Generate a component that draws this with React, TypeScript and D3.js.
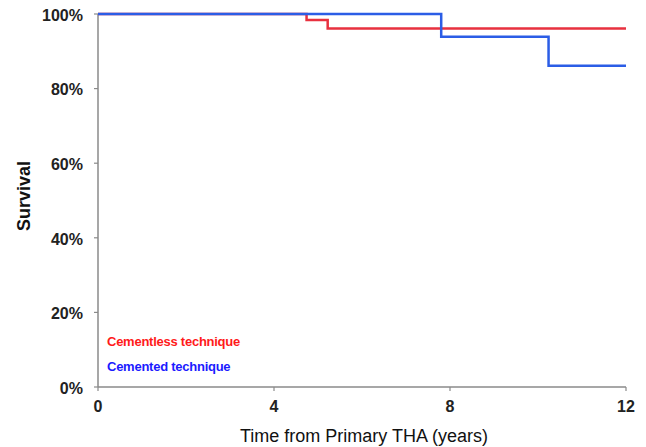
import React from "react";
import * as d3 from "d3";

const cementlessTimes = [0, 4.74, 5.22, 12];
const cementlessSurvival = [100, 98.4, 96.1, 96.1];
const cementedTimes = [0, 7.8, 10.24, 12];
const cementedSurvival = [100, 93.9, 86.1, 86.1];
const yTicks = [0, 20, 40, 60, 80, 100];
const xTicks = [0, 4, 8, 12];
const legendLabels = ["Cementless technique", "Cemented technique"];
const colors = ["#e8313f", "#2b5de6"];

export default function App() {
  const W = 646, H = 447;
  const x = d3.scaleLinear().domain([0, 12]).range([98, 626]);
  const y = d3.scaleLinear().domain([0, 100]).range([387, 14]);
  const line = d3
    .line<[number, number]>()
    .x((d) => x(d[0]))
    .y((d) => y(d[1]))
    .curve(d3.curveStepAfter);
  const series = [
    cementlessTimes.map((t, i) => [t, cementlessSurvival[i]] as [number, number]),
    cementedTimes.map((t, i) => [t, cementedSurvival[i]] as [number, number]),
  ];
  const axisColor = "#8a8a8a";
  const font = "Liberation Sans, Arial, sans-serif";
  return (
    <svg width={W} height={H} style={{ position: "absolute", left: 0, top: 0, background: "#fff" }}>
      <line x1={x(0)} x2={x(0)} y1={y(0)} y2={y(100)} stroke={axisColor} strokeWidth={1.5} />
      <line x1={x(0)} x2={x(12)} y1={y(0)} y2={y(0)} stroke={axisColor} strokeWidth={1.5} />
      {yTicks.map((t) => (
        <g key={"y" + t}>
          <line x1={x(0) - 4} x2={x(0)} y1={y(t)} y2={y(t)} stroke={axisColor} strokeWidth={1.2} />
          <text x={83} y={y(t) + 6.7} textAnchor="end" fontFamily={font} fontSize={16} fontWeight="bold" fill="#222">
            {t}%
          </text>
        </g>
      ))}
      {xTicks.map((t) => (
        <g key={"x" + t}>
          <line x1={x(t)} x2={x(t)} y1={y(0)} y2={y(0) + 4} stroke={axisColor} strokeWidth={1.2} />
          <text x={x(t)} y={412} textAnchor="middle" fontFamily={font} fontSize={16} fontWeight="bold" fill="#222">
            {t}
          </text>
        </g>
      ))}
      {series.map((s, i) => (
        <path key={i} d={line(s) || ""} fill="none" stroke={colors[i]} strokeWidth={2.5} />
      ))}
      <text x={0} y={0} transform={`translate(30,196) rotate(-90)`} textAnchor="middle" fontFamily={font} fontSize={18} fontWeight="bold" fill="#111">
        Survival
      </text>
      <text x={364} y={442} textAnchor="middle" fontFamily={font} fontSize={18} fill="#111">
        Time from Primary THA (years)
      </text>
      {legendLabels.map((l, i) => (
        <text key={l} x={107} y={346 + i * 25} fontFamily={font} fontSize={13} fontWeight="bold" letterSpacing={-0.25} fill={i === 0 ? "#ff1a1a" : "#1a1aff"}>
          {l}
        </text>
      ))}
    </svg>
  );
}
